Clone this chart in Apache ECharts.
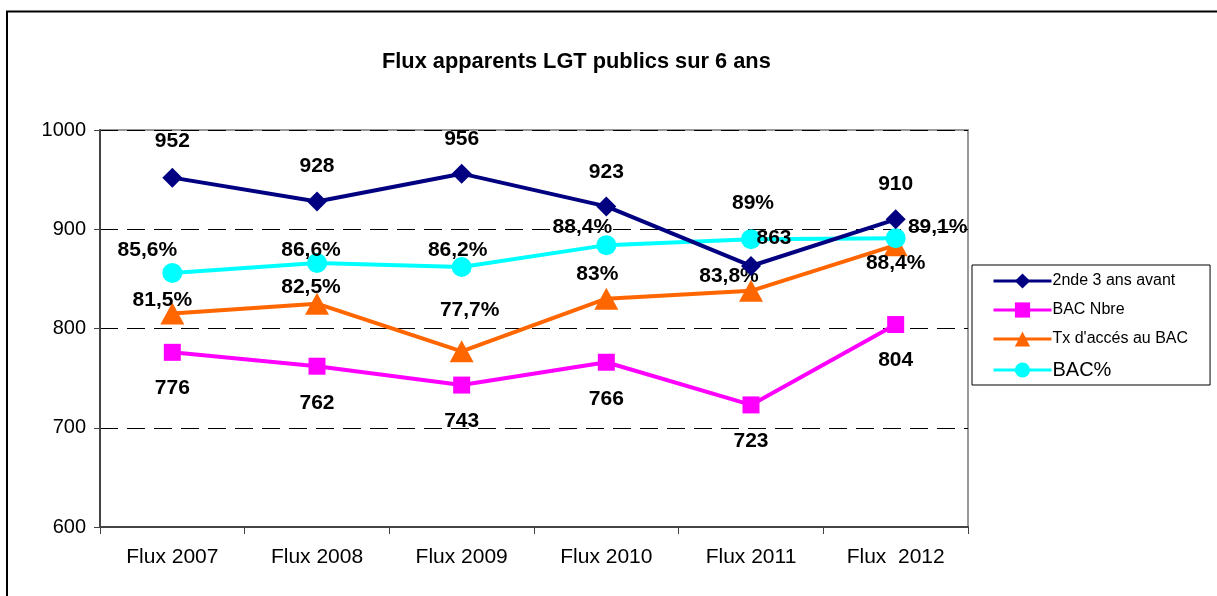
<!DOCTYPE html>
<html>
<head>
<meta charset="utf-8">
<script src="https://cdn.jsdelivr.net/npm/echarts@6/dist/echarts.min.js"></script>
<style>
  html, body { margin: 0; padding: 0; background: #fff; }
  #chart { width: 1217px; height: 596px; }
</style>
</head>
<body>
<div id="chart"></div>
<script type="text/javascript">
// categories and values
var categories = ['Flux 2007', 'Flux 2008', 'Flux 2009', 'Flux 2010', 'Flux 2011', 'Flux  2012'];
var seconde = [952, 928, 956, 923, 863, 910];       // 2nde 3 ans avant
var bacNbre = [776, 762, 743, 766, 723, 804];       // BAC Nbre
var txAcces = [81.5, 82.5, 77.7, 83, 83.8, 88.4];   // Tx d'accés au BAC (%)
var bacPct = [85.6, 86.6, 86.2, 88.4, 89, 89.1];    // BAC%
var yTicks = [600, 700, 800, 900, 1000];

// label offsets (dx, dy from point centre)
var offSeconde = [[0, -36], [0, -35], [0, -34], [0, -34], [23, -28], [0, -35]];
var offBac = [[0, 36], [0, 37], [0, 36], [0, 37], [0, 36], [0, 36]];
var offTx = [[-10, -13], [-6, -16], [8, -41], [-9, -25], [-22, -15], [0, 18]];
var offPct = [[-25, -23], [-6, -13], [-4, -17], [-24, -18], [2, -36], [42, -11]];

var labelFont = {
    fontFamily: '"Liberation Sans Narrow", "Arial Narrow", "Liberation Sans", sans-serif',
    fontWeight: 'bold',
    fontSize: 21,
    color: '#000'
};

function pct(v) { return String(v).replace('.', ',') + '%'; }

function build(values, offsets, isPct) {
    return values.map(function (v, i) {
        return {
            value: v,
            label: Object.assign({
                show: true,
                position: 'inside',
                offset: offsets[i],
                formatter: isPct ? pct(v) : String(v)
            }, labelFont)
        };
    });
}

var myChart = echarts.init(document.getElementById('chart'));
var option = {
    backgroundColor: '#fff',
    animation: false,
    title: {
        text: 'Flux apparents LGT publics sur 6 ans',
        left: 377,
        top: 46,
        textStyle: {
            fontFamily: '"Liberation Sans", Arial, sans-serif',
            fontWeight: 'bold',
            fontSize: 21.8,
            color: '#000'
        }
    },
    graphic: [{
        type: 'rect',
        shape: { x: 7, y: 11.5, width: 1300, height: 700 },
        style: { fill: 'none', stroke: '#000', lineWidth: 2 },
        silent: true
    }],
    legend: {
        orient: 'vertical',
        left: 972,
        top: 265,
        padding: [8, 22, 5, 20],
        itemGap: 13,
        itemWidth: 58,
        itemHeight: 19,
        borderColor: '#000',
        borderWidth: 1,
        backgroundColor: '#fff',
        lineStyle: { width: 3 },
        textStyle: {
            fontFamily: '"Liberation Sans", Arial, sans-serif',
            fontSize: 16,
            color: '#000',
            padding: [0, 0, 0, -4],
            rich: {
                big: { fontSize: 20, fontFamily: '"Liberation Sans", Arial, sans-serif', color: '#000' }
            }
        },
        formatter: function (name) {
            return name === 'BAC%' ? '{big|' + name + '}' : name;
        },
        data: ['2nde 3 ans avant', 'BAC Nbre', "Tx d'accés au BAC", 'BAC%']
    },
    grid: {
        left: 100,
        right: 249,
        top: 130,
        bottom: 69,
        show: true,
        borderColor: '#999',
        borderWidth: 2
    },
    xAxis: {
        type: 'category',
        data: categories,
        boundaryGap: true,
        axisLine: { lineStyle: { color: '#444', width: 2 } },
        axisTick: { show: true, inside: false, length: 7, interval: 0, lineStyle: { color: '#444', width: 1 } },
        axisLabel: {
            margin: 20,
            fontFamily: '"Liberation Sans", Arial, sans-serif',
            fontSize: 21,
            color: '#000'
        }
    },
    yAxis: [{
        type: 'value',
        min: yTicks[0],
        max: yTicks[yTicks.length - 1],
        interval: 100,
        axisLine: { show: true, lineStyle: { color: '#444', width: 2 } },
        axisTick: { show: true, length: 6, lineStyle: { color: '#444' } },
        axisLabel: {
            margin: 14,
            fontFamily: '"Liberation Sans", Arial, sans-serif',
            fontSize: 20,
            color: '#000',
            formatter: function (v) { return String(v); }
        },
        splitLine: { show: true, lineStyle: { color: '#000', width: 1, type: [18, 9] } }
    }, {
        type: 'value',
        min: 60,
        max: 100,
        show: false,
        splitLine: { show: false }
    }],
    series: [{
        name: '2nde 3 ans avant',
        type: 'line',
        yAxisIndex: 0,
        symbol: 'diamond',
        symbolSize: 20,
        lineStyle: { color: '#000080', width: 4 },
        itemStyle: { color: '#000080' },
        data: build(seconde, offSeconde, false),
        z: 5
    }, {
        name: 'BAC Nbre',
        type: 'line',
        yAxisIndex: 0,
        symbol: 'rect',
        symbolSize: 17,
        lineStyle: { color: '#ff00ff', width: 4 },
        itemStyle: { color: '#ff00ff' },
        data: build(bacNbre, offBac, false),
        z: 2
    }, {
        name: "Tx d'accés au BAC",
        type: 'line',
        yAxisIndex: 1,
        symbol: 'triangle',
        symbolSize: [24, 22],
        lineStyle: { color: '#ff6600', width: 4 },
        itemStyle: { color: '#ff6600' },
        data: build(txAcces, offTx, true),
        z: 3
    }, {
        name: 'BAC%',
        type: 'line',
        yAxisIndex: 1,
        symbol: 'circle',
        symbolSize: 20,
        lineStyle: { color: '#00ffff', width: 4 },
        itemStyle: { color: '#00ffff' },
        data: build(bacPct, offPct, true),
        z: 4
    }]
};
myChart.setOption(option);
</script>
</body>
</html>
